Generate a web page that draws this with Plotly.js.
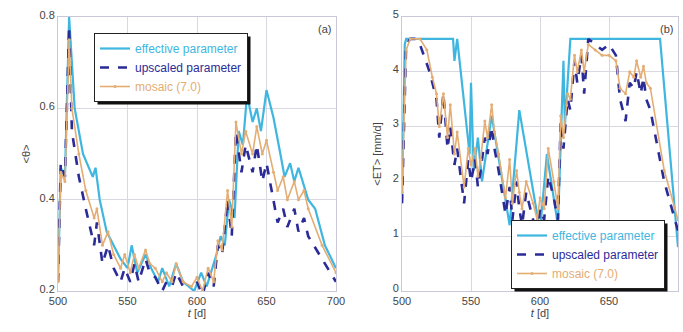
<!DOCTYPE html>
<html><head><meta charset="utf-8">
<script src="https://cdn.plot.ly/plotly-3.0.1.min.js"></script>
<style>html,body{margin:0;padding:0;background:#fff}#c{width:683px;height:332px}</style>
</head><body><div id="c"></div>
<script>
// Panel (a): soil moisture <theta>
const thEffT = [500,502,505,508,512,518,525,527,530,535,540,545,550,553,557,563,567,572,575,580,585,590,598,603,607,610,614,617,620,623,627,630,633,636,640,643,646,650,655,660,663,667,670,673,680,685,692,700];
const thEffV = [0.22,0.47,0.45,0.80,0.60,0.50,0.45,0.47,0.40,0.33,0.30,0.27,0.25,0.30,0.24,0.28,0.25,0.22,0.25,0.21,0.26,0.22,0.20,0.24,0.21,0.24,0.28,0.32,0.30,0.40,0.36,0.55,0.52,0.63,0.57,0.60,0.55,0.64,0.58,0.50,0.45,0.48,0.44,0.47,0.40,0.38,0.30,0.25];
const thUpT = [500,502,505,508,510,515,520,523,526,528,532,536,540,545,548,552,555,558,563,566,570,575,578,582,585,590,596,600,604,608,612,615,618,622,625,628,632,635,640,643,647,650,655,658,662,665,670,673,677,680,690,700];
const thUpV = [0.22,0.48,0.45,0.78,0.55,0.45,0.38,0.34,0.30,0.35,0.26,0.30,0.25,0.22,0.25,0.22,0.26,0.22,0.27,0.24,0.23,0.20,0.22,0.21,0.24,0.21,0.19,0.22,0.19,0.24,0.21,0.30,0.28,0.40,0.32,0.55,0.46,0.52,0.46,0.52,0.44,0.48,0.40,0.35,0.38,0.34,0.38,0.33,0.36,0.32,0.27,0.22];
const thMoT = [500,502,505,508,510,515,520,526,528,532,536,540,545,548,552,555,558,563,566,570,575,578,582,585,590,596,600,604,608,612,615,618,622,625,628,632,635,640,643,647,650,655,658,662,665,670,673,677,680,690,700];
const thMoV = [0.22,0.46,0.44,0.75,0.60,0.50,0.42,0.36,0.38,0.30,0.33,0.28,0.25,0.28,0.24,0.28,0.25,0.29,0.26,0.25,0.22,0.24,0.22,0.26,0.22,0.21,0.23,0.20,0.25,0.22,0.31,0.29,0.42,0.34,0.57,0.50,0.55,0.50,0.56,0.50,0.53,0.46,0.42,0.45,0.40,0.44,0.40,0.42,0.38,0.30,0.24];
// Panel (b): evapotranspiration <ET>
const etEffT = [500,502,503,537,538,540,549,550,552,555,558,565,578,585,600,605,613,617,618,622,687,700];
const etEffV = [1.6,4.5,4.6,4.6,4.2,4.6,2.5,3.8,2.2,2.8,2.0,3.2,1.2,3.3,1.1,2.5,1.2,4.2,3.0,4.6,4.6,0.8];
const etUpT = [500,503,506,510,513,520,525,527,530,533,535,538,540,545,548,550,553,555,557,560,562,565,567,570,575,578,580,583,585,587,590,595,598,600,603,606,610,613,615,617,620,622,625,627,630,632,635,640,645,650,655,658,662,665,668,670,673,675,677,680,690,700];
const etUpV = [1.6,4.5,4.6,4.6,4.5,4.0,3.5,2.8,3.6,2.6,3.0,2.3,2.6,1.6,2.4,2.0,2.4,1.9,2.2,2.8,2.5,3.0,2.6,2.2,1.4,1.9,1.3,2.0,1.5,1.2,1.8,1.3,1.0,1.5,1.3,2.1,1.7,1.3,3.1,2.6,3.5,3.3,4.2,3.8,4.3,3.6,4.6,4.5,4.4,4.5,4.3,3.5,3.1,3.8,3.7,4.0,3.6,3.9,3.5,3.3,2.0,1.1];
const etMoT = [500,503,506,513,518,522,525,527,530,533,535,538,540,545,548,550,553,555,557,560,562,565,567,570,575,578,580,583,585,587,590,595,598,600,603,606,610,613,615,617,620,622,625,627,630,632,635,640,645,650,655,658,662,665,668,670,673,675,677,680,690,700];
const etMoV = [1.8,4.4,4.6,4.6,4.4,3.9,3.6,3.0,3.6,2.8,3.4,2.5,2.9,1.9,2.6,2.3,2.6,2.1,2.4,3.1,2.8,3.4,2.9,2.5,1.7,2.4,1.6,2.2,1.8,1.5,2.0,1.6,1.3,1.7,1.5,2.6,2.0,1.5,3.2,2.8,3.6,3.5,4.3,4.0,4.4,4.0,4.5,4.4,4.3,4.3,4.2,3.7,3.6,4.0,3.9,4.2,3.9,4.1,3.8,3.7,2.2,1.3];
const seriesNames = ['effective parameter','upscaled parameter','mosaic (7.0)'];
const xTicks = [500,550,600,650,700];

const cEff = '#3fb6e0', cUp = '#2b2b98', cMo = '#e3ad74';
function nm(i,c){return '<span style="color:'+c+'">'+seriesNames[i]+'</span>';}
function mk(x,y,i,xa,ya,lg){
  const st = [
    {line:{color:cEff,width:2.2},mode:'lines'},
    {line:{color:cUp,width:2.6,dash:'dash'},mode:'lines'},
    {line:{color:cMo,width:1.6},mode:'lines+markers',marker:{size:3,color:cMo}}
  ][i];
  return Object.assign({x:x,y:y,type:'scatter',name:nm(i,[cEff,cUp,cMo][i]),xaxis:xa,yaxis:ya,legend:lg},st);
}
const traces = [
  mk(thEffT,thEffV,0,'x','y','legend'),
  mk(thUpT,thUpV,1,'x','y','legend'),
  mk(thMoT,thMoV,2,'x','y','legend'),
  mk(etEffT,etEffV,0,'x2','y2','legend2'),
  mk(etUpT,etUpV,1,'x2','y2','legend2'),
  mk(etMoT,etMoV,2,'x2','y2','legend2')
];
const tf = {family:'Liberation Sans, Arial, sans-serif',size:11,color:'#444'};
const ax = {showline:true,mirror:true,linecolor:'#c8c8d8',linewidth:1,gridcolor:'#d8d8e0',gridwidth:1,zeroline:false,ticks:'',tickfont:tf,ticklen:0};
const yb = 0.1235, yt = 0.9488;
const lf = {family:'Liberation Sans, Arial, sans-serif',size:12};
function px(x){return x/683;} function py(y){return 1-y/332;}
function shadow(x0,y0,x1,y1){
  return {type:'rect',xref:'paper',yref:'paper',x0:px(x0),x1:px(x1),y0:py(y1),y1:py(y0),fillcolor:'#111',line:{width:0},layer:'above'};
}
const layout = {
  width:683,height:332,margin:{l:0,r:0,t:0,b:0},paper_bgcolor:'#fff',plot_bgcolor:'#fff',
  xaxis:Object.assign({},ax,{domain:[58/683,336/683],range:[500,700],tickvals:xTicks,anchor:'y',
    title:{text:'<i>t</i> [d]',font:tf,standoff:2}}),
  yaxis:Object.assign({},ax,{domain:[yb,yt],range:[0.2,0.8],tickvals:[0.2,0.4,0.6,0.8],anchor:'x',ticklabelshift:-2,
    title:{text:'&lt;θ&gt;',font:tf,standoff:6}}),
  xaxis2:Object.assign({},ax,{domain:[402/683,678/683],range:[500,700],tickvals:xTicks,anchor:'y2',
    title:{text:'<i>t</i> [d]',font:tf,standoff:2}}),
  yaxis2:Object.assign({},ax,{domain:[yb,yt],range:[0,5],tickvals:[0,1,2,3,4,5],anchor:'x2',ticklabelshift:-3,
    title:{text:'&lt;ET&gt; [mm/d]',font:tf,standoff:8}}),
  showlegend:true,
  legend:{x:px(94),y:py(33),xanchor:'left',yanchor:'top',bgcolor:'#fff',bordercolor:'#222',borderwidth:1,
    font:lf,tracegroupgap:0,itemwidth:30},
  legend2:{x:px(511),y:py(220),xanchor:'left',yanchor:'top',bgcolor:'#fff',bordercolor:'#222',borderwidth:1,
    font:lf,tracegroupgap:0,itemwidth:30},
  annotations:[
    {text:'(a)',xref:'x domain',yref:'y domain',x:0.99,y:0.985,xanchor:'right',yanchor:'top',showarrow:false,font:tf},
    {text:'(b)',xref:'x2 domain',yref:'y2 domain',x:0.99,y:0.985,xanchor:'right',yanchor:'top',showarrow:false,font:tf}
  ]
};
const gd = document.getElementById('c');
Plotly.newPlot(gd,traces,layout,{staticPlot:true}).then(function(){
  // drop shadows behind the legend boxes, sized from the rendered legends
  const host = gd.getBoundingClientRect();
  const shapes = [];
  ['legend','legend2'].forEach(function(cls){
    const bg = gd.querySelector('g.'+cls+' rect.bg');
    if(!bg) return;
    const r = bg.getBoundingClientRect();
    const x0 = r.left-host.left, y0 = r.top-host.top;
    shapes.push(shadow(x0+3,y0+3,x0+r.width+3,y0+r.height+3));
  });
  return Plotly.relayout(gd,{shapes:shapes});
});
</script></body></html>
